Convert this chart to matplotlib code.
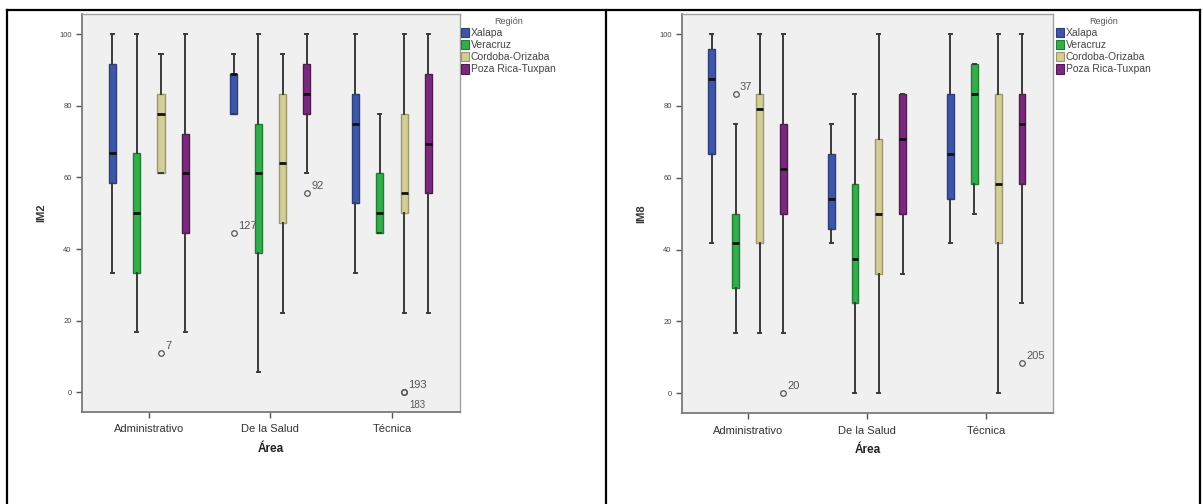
import matplotlib
matplotlib.use("Agg")
import matplotlib.pyplot as plt
from matplotlib.patches import Patch
from matplotlib.lines import Line2D

plt.rcParams['font.family'] = ['Liberation Sans', 'DejaVu Sans']

# datos
areas = ["Administrativo", "De la Salud", "Técnica"]
regiones = ["Xalapa", "Veracruz", "Cordoba-Orizaba", "Poza Rica-Tuxpan"]
colores = ["#3e56a8", "#35ad4c", "#d3ce97", "#7a2a7c"]
bordes = ["#2c3f7c", "#1f7f32", "#9c976a", "#521a53"]

# IM2: filas = region, columnas = area
im2_hi = [[100, 94.4, 100], [100, 100, 77.8], [94.4, 94.4, 100], [100, 100, 100]]
im2_q3 = [[91.7, 88.9, 83.3], [66.7, 75.0, 61.1], [83.3, 83.3, 77.8], [72.2, 91.7, 88.9]]
im2_med = [[66.7, 88.9, 75.0], [50.0, 61.1, 50.0], [77.8, 63.9, 55.6], [61.1, 83.3, 69.4]]
im2_q1 = [[58.3, 77.8, 52.8], [33.3, 38.9, 44.4], [61.1, 47.2, 50.0], [44.4, 77.8, 55.6]]
im2_lo = [[33.3, 77.8, 33.3], [16.7, 5.6, 44.4], [61.1, 22.2, 22.2], [16.7, 61.1, 22.2]]
# atipicos: (area, region, valor, etiqueta)
im2_out = [(0, 2, 11.1, "7"), (1, 0, 44.4, "127"), (1, 3, 55.6, "92"),
           (2, 2, 0.0, "193"), (2, 2, 0.0, "183")]

# IM8
im8_hi = [[100, 75.0, 100], [75.0, 83.3, 91.7], [100, 100, 100], [100, 83.3, 100]]
im8_q3 = [[95.8, 66.7, 83.3], [50.0, 58.3, 91.7], [83.3, 70.8, 83.3], [75.0, 83.3, 83.3]]
im8_med = [[87.5, 54.2, 66.7], [41.7, 37.5, 83.3], [79.2, 50.0, 58.3], [62.5, 70.8, 75.0]]
im8_q1 = [[66.7, 45.8, 54.2], [29.2, 25.0, 58.3], [41.7, 33.3, 41.7], [50.0, 50.0, 58.3]]
im8_lo = [[41.7, 41.7, 41.7], [16.7, 0.0, 50.0], [16.7, 0.0, 0.0], [16.7, 33.3, 25.0]]
im8_out = [(0, 1, 83.3, "37"), (0, 3, 0.0, "20"), (2, 3, 8.3, "205")]

W, H = 1203, 504
fig = plt.figure(figsize=(W / 100, H / 100), dpi=100)

offs = [-0.3, -0.1, 0.1, 0.3]


def panel(rect, hi, q3, med, q1, lo, outs, ylabel):
    ax = fig.add_axes([rect[0] / W, 1 - rect[3] / H, (rect[2] - rect[0]) / W, (rect[3] - rect[1]) / H])
    ax.set_facecolor("#f0f0f0")
    for r in range(4):
        stats = []
        pos = []
        for a in range(3):
            stats.append(dict(med=med[r][a], q1=q1[r][a], q3=q3[r][a],
                              whislo=lo[r][a], whishi=hi[r][a], fliers=[]))
            pos.append(a + offs[r])
        ax.bxp(stats, positions=pos, widths=0.058, capwidths=0.025, patch_artist=True,
               showfliers=False,
               boxprops=dict(facecolor=colores[r], edgecolor=bordes[r], linewidth=1),
               medianprops=dict(color="#111111", linewidth=2),
               whiskerprops=dict(color="#3a3a3a", linewidth=1.4),
               capprops=dict(color="#3a3a3a", linewidth=1.4), zorder=3)
    seen = {}
    for a, r, v, lab in outs:
        x = a + offs[r]
        ax.plot(x, v, marker="o", ms=4, mfc="none", mec="#555555", mew=0.9, zorder=4)
        k = (a, r, v)
        if k in seen:
            ax.annotate(lab, (x, v), xytext=(4, -9), textcoords="offset points",
                        fontsize=7, color="#555555", ha="left", va="center")
        else:
            ax.annotate(lab, (x, v), xytext=(3, 5), textcoords="offset points",
                        fontsize=8, color="#555555", ha="left", va="center")
        seen[k] = 1
    ax.set_xlim(-0.55, 2.56)
    ax.set_ylim(-5.5, 105.6)
    ax.set_xticks(range(3))
    ax.set_xticklabels(areas, fontsize=8, color="#333333")
    ax.set_yticks([0, 20, 40, 60, 80, 100])
    ax.set_yticklabels(["0", "20", "40", "60", "80", "100"], fontsize=5.5, color="#444444")
    ax.tick_params(axis="both", direction="out", length=4, width=1, color="#555555")
    ax.tick_params(axis="x", pad=5)
    for s in ax.spines.values():
        s.set_color("#a0a0a0")
        s.set_linewidth(1)
    ax.spines["left"].set_color("#7a7a7a")
    ax.spines["bottom"].set_color("#7a7a7a")
    ax.spines["left"].set_linewidth(1.3)
    ax.spines["bottom"].set_linewidth(1.3)
    ax.set_xlabel("Área", fontsize=8.5, fontweight="bold", color="#222222", labelpad=6)
    ax.set_ylabel(ylabel, fontsize=8, fontweight="bold", color="#333333", labelpad=9)
    return ax


panel((82, 14, 460, 412), im2_hi, im2_q3, im2_med, im2_q1, im2_lo, im2_out, "IM2")
panel((682, 14, 1053, 413), im8_hi, im8_q3, im8_med, im8_q1, im8_lo, im8_out, "IM8")

handles = [Patch(facecolor=colores[i], edgecolor=bordes[i], linewidth=0.8) for i in range(4)]
for lx in (461, 1056):
    leg = fig.legend(handles, regiones, title="Región", loc="upper left",
                     bbox_to_anchor=(lx / W, 1 - 17 / H), frameon=False,
                     fontsize=7.5, title_fontsize=6.5, handlelength=0.8, handleheight=1.0,
                     handletextpad=0.15, labelspacing=0.18, borderpad=0, borderaxespad=0)
    for t in leg.get_texts():
        t.set_color("#444444")
    leg.get_title().set_color("#555555")

# bordes de la tabla
def linea(x0, y0, x1, y1):
    fig.add_artist(Line2D([x0 / W, x1 / W], [1 - y0 / H, 1 - y1 / H],
                          transform=fig.transFigure, color="black", linewidth=1.6))

linea(7, 10, 1200, 10)
linea(7, 10, 7, 504)
linea(606, 10, 606, 504)
linea(1200, 10, 1200, 504)

fig.savefig("out.png", dpi=100)
